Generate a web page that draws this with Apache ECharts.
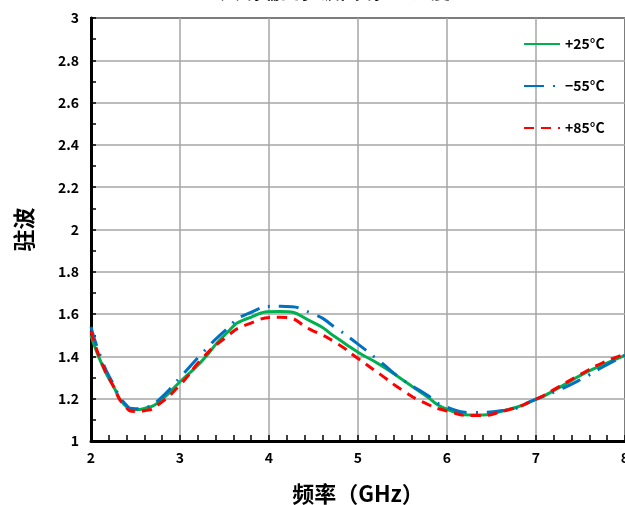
<!DOCTYPE html>
<html>
<head>
<meta charset="utf-8">
<script src="https://cdn.jsdelivr.net/npm/echarts@6/dist/echarts.min.js"></script>
<style>
    html, body { margin: 0; padding: 0; background: #fff; }
    #chart { width: 625px; height: 505px; }
</style>
</head>
<body>
<div id="chart"></div>
<script>
// frequency (GHz) and VSWR, with a point at each peak / dip
var freq = [2, 2.125, 2.25, 2.375, 2.5, 2.625, 2.75, 3, 3.25, 3.5, 3.75, 4.125, 4.5, 4.75, 5,
    5.25, 5.5, 5.75, 6, 6.3, 6.65, 7, 7.25, 7.5, 7.75, 8];
var vswr25 = [1.50, 1.36, 1.26, 1.172, 1.148, 1.157, 1.18, 1.28, 1.38, 1.50, 1.578, 1.612, 1.56, 1.49, 1.42,
    1.36, 1.29, 1.217, 1.15, 1.123, 1.144, 1.197, 1.25, 1.31, 1.36, 1.405];
var vswrM55 = [1.54, 1.38, 1.27, 1.18, 1.153, 1.16, 1.19, 1.30, 1.415, 1.52, 1.60, 1.637, 1.60, 1.535, 1.458,
    1.375, 1.29, 1.225, 1.16, 1.135, 1.145, 1.198, 1.24, 1.29, 1.35, 1.405];
var vswr85 = [1.52, 1.365, 1.26, 1.168, 1.14, 1.145, 1.17, 1.265, 1.39, 1.485, 1.55, 1.585, 1.52, 1.465, 1.39,
    1.315, 1.24, 1.18, 1.142, 1.12, 1.143, 1.198, 1.255, 1.315, 1.37, 1.41];
var names = ["+25°C", "−55°C", "+85°C"];

function pairs(ys) {
    return freq.map(function (x, i) { return [x, ys[i]]; });
}

var labelFont = { color: "#000", fontWeight: "bold", fontSize: 14, fontFamily: "Noto Sans CJK SC" };
var nameFont = { color: "#000", fontWeight: "bold", fontSize: 22, fontFamily: "Noto Sans CJK SC" };

var chart = echarts.init(document.getElementById("chart"));
chart.setOption({
    animation: false,
    title: {
        text: "天线端口驻波曲线 vs 温度",
        left: 215,
        top: -24,
        textStyle: { color: "#000", fontWeight: "bold", fontSize: 20, fontFamily: "Noto Sans CJK SC" }
    },
    grid: {
        left: 91, right: 0, top: 18, bottom: 64,
        outerBoundsMode: "none",
        containLabel: false,
        show: true, borderColor: "#000", borderWidth: 2
    },
    legend: {
        orient: "vertical",
        left: 518,
        top: 32,
        itemGap: 28,
        itemWidth: 36,
        itemHeight: 14,
        itemStyle: { opacity: 0 },
        textStyle: labelFont,
        data: names
    },
    xAxis: {
        type: "value",
        min: 2, max: 8, interval: 1,
        name: "频率（GHz）",
        nameLocation: "middle",
        nameGap: 42,
        nameTextStyle: nameFont,
        axisLine: { lineStyle: { color: "#000", width: 3 } },
        axisTick: { inside: true, length: 6, lineStyle: { color: "#000", width: 1.5 } },
        minorTick: { show: true, splitNumber: 5, length: 6, lineStyle: { color: "#000", width: 1.5 } },
        splitLine: { lineStyle: { color: "#a6a6a6", width: 1.5 } },
        axisLabel: Object.assign({ margin: 10 }, labelFont)
    },
    yAxis: {
        type: "value",
        min: 1, max: 3, interval: 0.2,
        name: "驻波",
        nameLocation: "middle",
        nameGap: 56,
        nameTextStyle: nameFont,
        axisLine: { show: true, lineStyle: { color: "#000", width: 3 } },
        axisTick: { inside: true, length: 5, lineStyle: { color: "#000", width: 1.5 } },
        minorTick: { show: true, splitNumber: 2, length: 5, lineStyle: { color: "#000", width: 1.5 } },
        splitLine: { lineStyle: { color: "#a6a6a6", width: 1.5 } },
        axisLabel: Object.assign({ margin: 12 }, labelFont)
    },
    series: [
        {
            name: names[0], type: "line", smooth: 0.6, symbol: "none",
            lineStyle: { color: "#00b050", width: 3 },
            itemStyle: { color: "#00b050" },
            data: pairs(vswr25)
        },
        {
            name: names[1], type: "line", smooth: 0.6, symbol: "none",
            lineStyle: { color: "#0070c0", width: 3, type: [20, 9, 2, 9] },
            itemStyle: { color: "#0070c0" },
            data: pairs(vswrM55)
        },
        {
            name: names[2], type: "line", smooth: 0.6, symbol: "none",
            lineStyle: { color: "#ff0000", width: 3, type: [10, 7] },
            itemStyle: { color: "#ff0000" },
            data: pairs(vswr85)
        }
    ]
});
</script>
</body>
</html>
